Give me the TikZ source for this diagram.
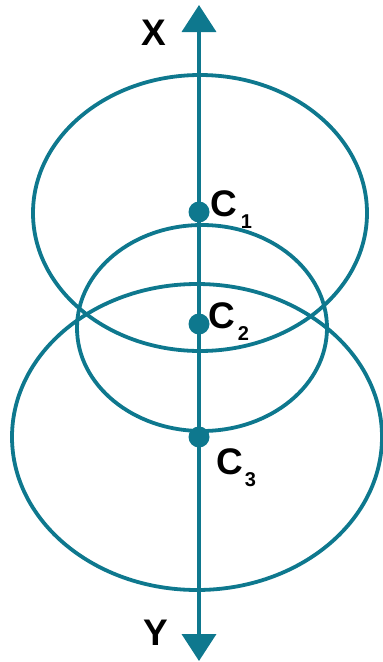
\documentclass[tikz,border=0pt]{standalone}
\usepackage{fontspec}
\setmainfont{Liberation Sans}
\usepackage{xcolor}
\usetikzlibrary{arrows.meta, positioning}
\definecolor{eixo}{RGB}{14,120,142}

\begin{document}
\begin{tikzpicture}[x=1pt, y=-1pt,
        orbita/.style={draw=eixo, line width=3.8pt},
        centro/.style={circle, fill=eixo, inner sep=0pt, minimum size=21pt},
        rotulo/.style={anchor=base west, inner sep=0pt, font=\fontsize{37}{37}\selectfont\bfseries}]
        \useasboundingbox (0,0) rectangle (383,662);
        % Elipses
        \draw[orbita] (200,213) ellipse [x radius=167pt, y radius=138pt];
        \draw[orbita] (202,328) ellipse [x radius=125pt, y radius=103pt];
        \draw[orbita] (197,437) ellipse [x radius=185pt, y radius=153pt];
        % Eixo XY
        \coordinate (topo) at (199,5);
        \coordinate (base) at (199,661);
        \draw[eixo, line width=3.8pt, {Triangle[width=34pt,length=27pt]}-{Triangle[width=34pt,length=27pt]}] (base) -- (topo);
        \node[rotulo] (x) at (141,45) {X};
        \node[rotulo] (y) at (143,645) {Y};
        % Centros
        \node[centro] (c1) at (199,212) {};
        \node[centro] (c2) at (199,324) {};
        \node[centro] (c3) at (199,437) {};
        \node[rotulo] (l1) at (210,216) {C\kern4pt\raisebox{-12pt}{\fontsize{20}{20}\selectfont 1}};
        \node[rotulo] (l2) at (208,328) {C\kern3pt\raisebox{-12pt}{\fontsize{20}{20}\selectfont 2}};
        \node[rotulo] (l3) at (216,474) {C\kern2pt\raisebox{-12pt}{\fontsize{20}{20}\selectfont 3}};
    \end{tikzpicture}
\end{document}
